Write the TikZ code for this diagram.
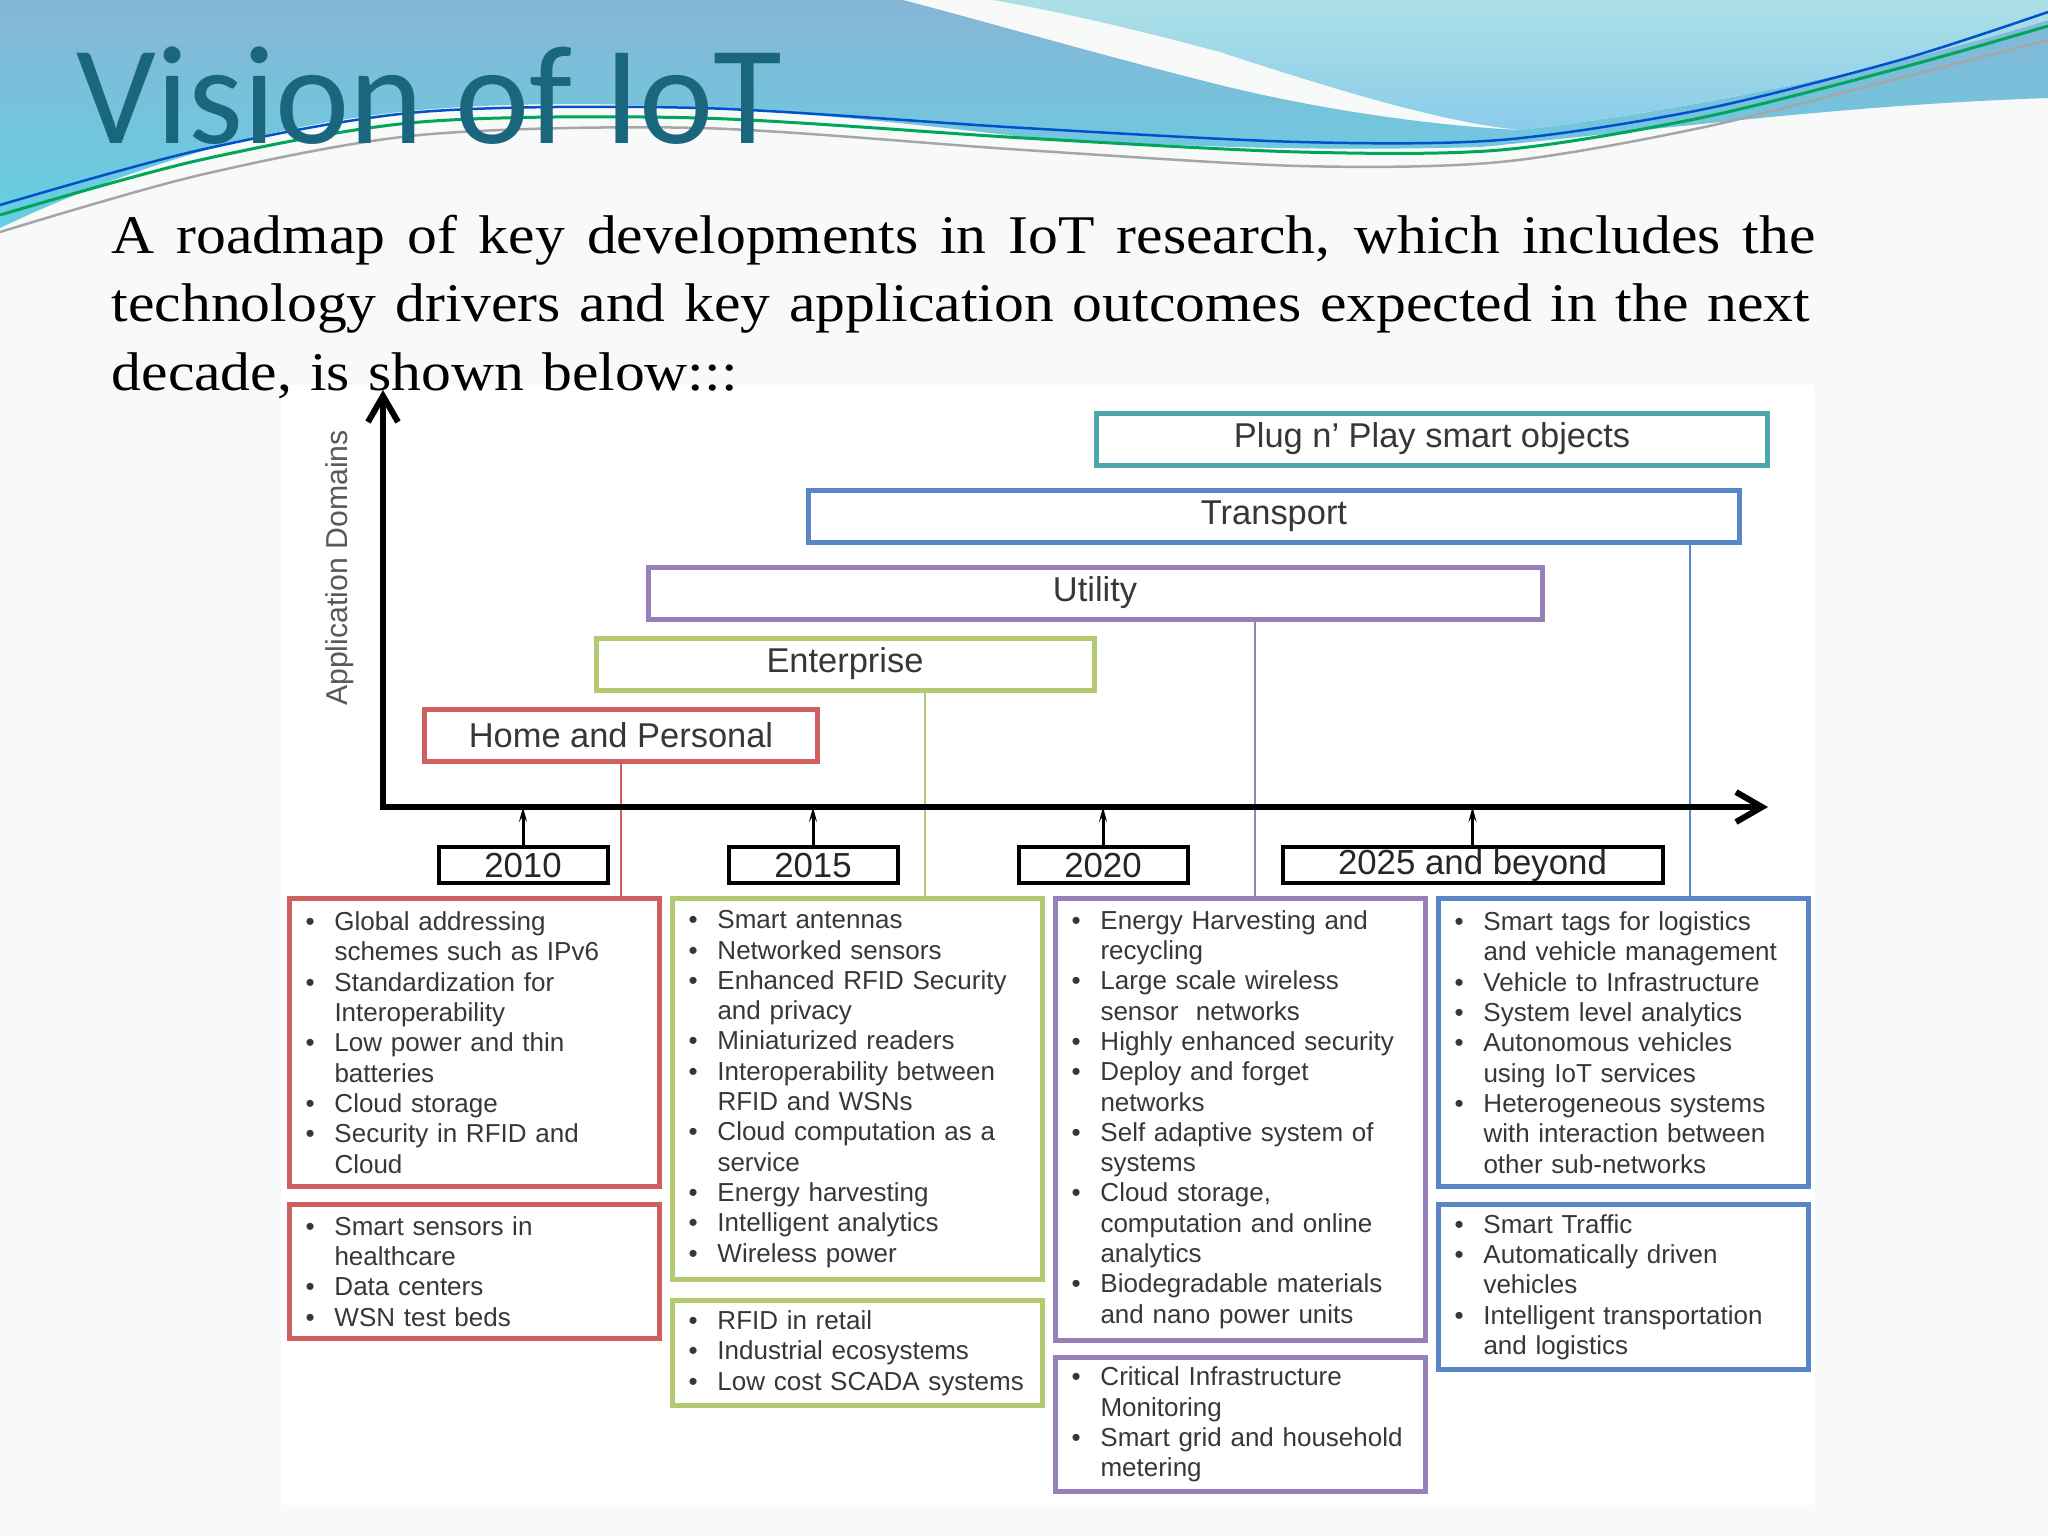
\documentclass[tikz,border=0pt]{standalone}
\usepackage{fontspec}
\setmainfont{Liberation Sans}
\newfontfamily\titlefont{Carlito}
\newfontfamily\parafont[FakeStretch=1.095]{Liberation Serif}
\usepackage{xcolor}
\definecolor{titleteal}{RGB}{26,102,124}
\definecolor{homered}{RGB}{206,96,96}
\definecolor{entgreen}{RGB}{180,202,112}
\definecolor{utilpurple}{RGB}{150,128,186}
\definecolor{transblue}{RGB}{88,134,198}
\definecolor{plugteal}{RGB}{76,166,172}
\definecolor{txtgray}{RGB}{55,55,55}
\definecolor{pagebg}{RGB}{248,249,249}
\definecolor{wavetop}{RGB}{134,182,214}
\definecolor{wavelow}{RGB}{100,208,226}
\definecolor{lighttop}{RGB}{172,224,230}
\definecolor{lightlow}{RGB}{138,204,234}
\usepackage{tikz}
\usetikzlibrary{positioning, arrows.meta, calc}
\newcommand{\itm}[1]{\hangindent=2.9mm\hangafter=1\noindent\makebox[2.9mm][l]{\textbullet}#1\par}
\newcommand{\fullline}[2]{\makebox[#1][s]{\spaceskip=0.25em plus 1fil\relax #2}}

\begin{document}
\begin{tikzpicture}[x=0.1mm, y=-0.1mm, node distance=1.3mm,
        domainbox/.style={rectangle, draw, line width=0.5mm, fill=white, minimum height=5.2mm, inner sep=0pt, text=txtgray, font=\fontsize{9.8}{11}\selectfont},
        yearbox/.style={rectangle, draw=black, line width=0.4mm, fill=white, minimum width=16.9mm, minimum height=3.6mm, inner sep=0pt, text=black!85, font=\fontsize{9.9}{11}\selectfont},
        outcome/.style={rectangle, draw, line width=0.5mm, fill=white, text width=33.8mm, inner xsep=1.6mm, inner ysep=0pt, align=left, text=txtgray, font=\fontsize{7.4}{8.62}\selectfont},
        dline/.style={line width=0.25mm},
        yeartick/.style={line width=0.3mm, -{Stealth[open, length=1.5mm, width=0.8mm, inset=0.6mm]}},
        domaxis/.style={line width=0.6mm, {Straight Barb[length=2.6mm, width=3mm]}-{Straight Barb[length=2.6mm, width=3mm]}}]
        \useasboundingbox (0,0) rectangle (2048,1536);

        % Slide background and waves
        \fill[pagebg] (0,0) rectangle (2048,1536);
        \shade[top color=wavetop, bottom color=wavelow] (0,0) -- (903,0)
            .. controls (980,20) and (1100,55) .. (1220,85)
            .. controls (1330,112) and (1440,126) .. (1520,130)
            .. controls (1650,115) and (1850,80) .. (2048,20) -- (2048,98)
            .. controls (1850,105) and (1700,125) .. (1481,147)
            .. controls (1300,152) and (1150,145) .. (1024,137)
            .. controls (800,110) and (600,95) .. (420,110)
            .. controls (250,125) and (100,180) .. (0,228) -- cycle;
        \shade[top color=lighttop, bottom color=lightlow] (993,0) -- (2048,0) -- (2048,20)
            .. controls (1850,80) and (1650,115) .. (1520,130)
            .. controls (1440,122) and (1330,88) .. (1220,52)
            .. controls (1120,25) and (1040,8) .. (993,0) -- cycle;
        \draw[line width=0.25mm, blue!60!cyan!80!black] plot[smooth] coordinates {(0,205) (200,150) (420,112) (700,108) (1024,128) (1300,142) (1500,140) (1700,110) (1900,60) (2048,12)};
        \draw[line width=0.3mm, teal!70!green] plot[smooth] coordinates {(0,215) (200,160) (420,122) (700,118) (1024,138) (1300,152) (1500,150) (1700,118) (1900,68) (2048,26)};
        \draw[line width=0.25mm, gray!70] plot[smooth] coordinates {(0,232) (200,175) (420,135) (700,128) (1024,150) (1300,166) (1500,162) (1700,128) (1900,78) (2048,40)};

        % Roadmap backdrop
        \fill[white] (281,385) rectangle (1815,1505);

        % Title and text
        \node[anchor=base west, inner sep=0pt, text=titleteal, font=\titlefont\fontsize{40}{48}\selectfont] (title) at (76,143) {Vision of IoT};
        \node[anchor=north west, inner sep=0pt, text width=172mm, align=left, font=\parafont\fontsize{15.5}{19.5}\selectfont] (intro) at (111,214)
            {\noindent\fullline{170.4mm}{A roadmap of key developments in IoT research, which includes the}\newline
             \fullline{169.8mm}{technology drivers and key application outcomes expected in the next}\newline
             decade, is shown below:::};

        \node[rotate=90, text=black!65, font=\fontsize{8.6}{10}\selectfont] (appdom) at (340,568) {Application Domains};

        % Application domains
        \node[domainbox, draw=plugteal, minimum width=67.1mm] (plug) at (1432,439) {Plug n' Play smart objects};
        \node[domainbox, draw=transblue, minimum width=93.1mm] (trans) at (1274,516) {Transport};
        \node[domainbox, draw=utilpurple, minimum width=89.4mm] (util) at (1095,593) {Utility};
        \node[domainbox, draw=entgreen, minimum width=49.8mm] (ent) at (845,664) {Enterprise};
        \node[domainbox, draw=homered, minimum width=39.3mm] (home) at (621,735) {Home and Personal};

        % Years
        \node[yearbox] (y2010) at (523,865) {2010};
        \node[yearbox, right=11.7mm of y2010] (y2015) {2015};
        \node[yearbox, right=11.7mm of y2015] (y2020) {2020};
        \node[yearbox, right=9.1mm of y2020, minimum width=38mm] (y2025) {2025 and beyond};

        % Technology drivers and outcomes
        \node[outcome, draw=homered, minimum height=28.8mm, anchor=north west] (home1) at (287,896) {%
            \itm{Global addressing\newline schemes such as IPv6}
            \itm{Standardization for\newline Interoperability}
            \itm{Low power and thin\newline batteries}
            \itm{Cloud storage}
            \itm{Security in RFID and\newline Cloud}};
        \node[outcome, draw=homered, minimum height=13.4mm, below=1.3mm of home1.south west, anchor=north west] (home2) {%
            \itm{Smart sensors in\newline healthcare}
            \itm{Data centers}
            \itm{WSN test beds}};
        \node[outcome, draw=entgreen, minimum height=38.1mm, right=0.8mm of home1.north east, anchor=north west] (ent1) {%
            \itm{Smart antennas}
            \itm{Networked sensors}
            \itm{Enhanced RFID Security\newline and privacy}
            \itm{Miniaturized readers}
            \itm{Interoperability between\newline RFID and WSNs}
            \itm{Cloud computation as a\newline service}
            \itm{Energy harvesting}
            \itm{Intelligent analytics}
            \itm{Wireless power}};
        \node[outcome, draw=entgreen, minimum height=10.5mm, below=1.6mm of ent1.south west, anchor=north west] (ent2) {%
            \itm{RFID in retail}
            \itm{Industrial ecosystems}
            \itm{Low cost SCADA systems}};
        \node[outcome, draw=utilpurple, minimum height=44.2mm, right=0.8mm of ent1.north east, anchor=north west] (util1) {%
            \itm{Energy Harvesting and\newline recycling}
            \itm{Large scale wireless\newline sensor\ \ networks}
            \itm{Highly enhanced security}
            \itm{Deploy and forget\newline networks}
            \itm{Self adaptive system of\newline systems}
            \itm{Cloud storage,\newline computation and online\newline analytics}
            \itm{Biodegradable materials\newline and nano power units}};
        \node[outcome, draw=utilpurple, minimum height=13.4mm, below=1.2mm of util1.south west, anchor=north west] (util2) {%
            \itm{Critical Infrastructure\newline Monitoring}
            \itm{Smart grid and household\newline metering}};
        \node[outcome, draw=transblue, minimum height=28.8mm, right=0.8mm of util1.north east, anchor=north west] (trans1) {%
            \itm{Smart tags for logistics\newline and vehicle management}
            \itm{Vehicle to Infrastructure}
            \itm{System level analytics}
            \itm{Autonomous vehicles\newline using IoT services}
            \itm{Heterogeneous systems\newline with interaction between\newline other sub-networks}};
        \node[outcome, draw=transblue, minimum height=16.5mm, below=1.3mm of trans1.south west, anchor=north west] (trans2) {%
            \itm{Smart Traffic}
            \itm{Automatically driven\newline vehicles}
            \itm{Intelligent transportation\newline and logistics}};

        % Domain to outcome links
        \draw[dline, homered] (home.south) -- (home.south |- home1.north);
        \draw[dline, entgreen] ([xshift=8mm]ent.south) -- ([xshift=8mm]ent.south |- ent1.north);
        \draw[dline, utilpurple] ([xshift=16mm]util.south) -- ([xshift=16mm]util.south |- util1.north);
        \draw[dline, transblue] ([xshift=41.6mm]trans.south) -- ([xshift=41.6mm]trans.south |- trans1.north);

        % Axes and year ticks
        \coordinate (origin) at (383,807);
        \coordinate (ytip) at (383,390);
        \coordinate (xtip) at (1768,807);
        \foreach \yr in {y2010, y2015, y2020, y2025}
            \draw[yeartick] (\yr.north) -- (\yr.north |- origin);
        \draw[domaxis] (ytip) |- (xtip);
\end{tikzpicture}
\end{document}
